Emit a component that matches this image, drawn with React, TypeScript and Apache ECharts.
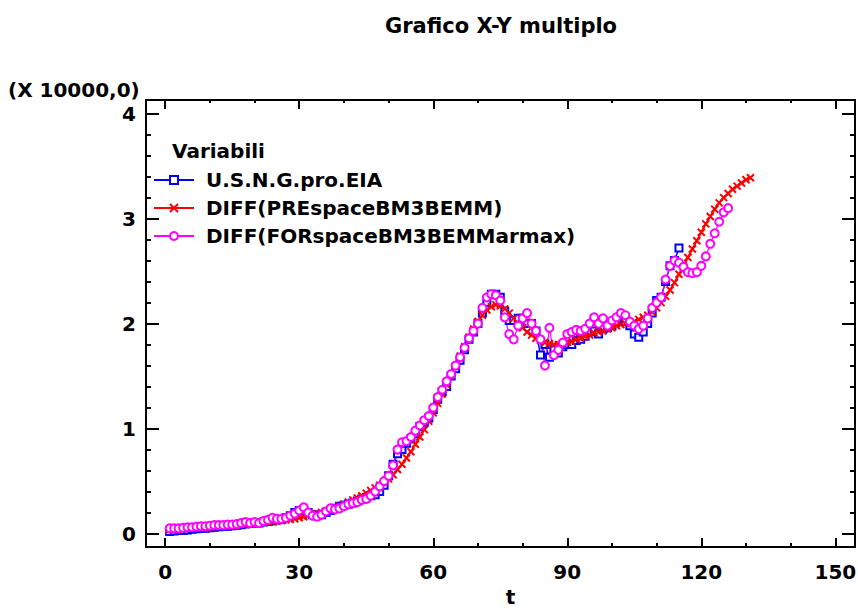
import React, { useEffect, useRef } from "react";
import * as echarts from "echarts";

// Series values (units of 10000), one value per t = 1, 2, 3, ...
const blueVals = [
  0.02, 0.025, 0.03, 0.03, 0.035, 0.04, 0.045, 0.05, 0.05, 0.055,
  0.06, 0.065, 0.07, 0.07, 0.075, 0.08, 0.085, 0.09, 0.095, 0.1,
  0.1, 0.11, 0.115, 0.12, 0.13, 0.135, 0.15, 0.17, 0.2, 0.22,
  0.22, 0.2, 0.18, 0.17, 0.18, 0.2, 0.22, 0.24, 0.26, 0.27,
  0.28, 0.29, 0.31, 0.33, 0.34, 0.36, 0.37, 0.4, 0.46, 0.55,
  0.66, 0.76, 0.8, 0.86, 0.9, 0.95, 1.02, 1.06, 1.1, 1.18,
  1.28, 1.35, 1.4, 1.5, 1.57, 1.65, 1.75, 1.85, 1.92, 2.0,
  2.1, 2.2, 2.28, 2.28, 2.25, 2.12, 2.03, 2.03, 2.05, 2.05,
  2.0, 2.0, 1.93, 1.7, 1.8, 1.68, 1.75, 1.72, 1.78, 1.8,
  1.8, 1.84, 1.85, 1.88, 1.92, 1.93, 1.9, 1.95, 1.96, 1.98,
  2.02, 2.06, 2.02, 1.98, 1.9, 1.87, 1.92, 2.0, 2.1, 2.22,
  2.25, 2.4, 2.55, 2.6, 2.72,
];

const redVals = [
  0.04, 0.042, 0.045, 0.048, 0.05, 0.053, 0.056, 0.059, 0.062, 0.065,
  0.068, 0.071, 0.074, 0.077, 0.08, 0.084, 0.088, 0.092, 0.096, 0.1,
  0.104, 0.108, 0.112, 0.116, 0.12, 0.125, 0.13, 0.135, 0.14, 0.15,
  0.16, 0.17, 0.18, 0.19, 0.2, 0.215, 0.23, 0.245, 0.26, 0.28,
  0.3, 0.32, 0.34, 0.36, 0.385, 0.41, 0.435, 0.46, 0.49, 0.52,
  0.56, 0.61, 0.66, 0.72, 0.78, 0.85, 0.92, 0.99, 1.07, 1.15,
  1.24, 1.33, 1.42, 1.51, 1.6, 1.69, 1.78, 1.87, 1.95, 2.02,
  2.08, 2.13, 2.16, 2.18, 2.17, 2.14, 2.1, 2.05, 2.0, 1.96,
  1.92, 1.89, 1.86, 1.84, 1.82, 1.81, 1.8, 1.8, 1.81, 1.82,
  1.83, 1.85, 1.86, 1.88, 1.89, 1.91, 1.92, 1.93, 1.95, 1.96,
  1.98, 1.99, 2.0, 2.01, 2.02, 2.04, 2.06, 2.08, 2.11, 2.15,
  2.2, 2.26, 2.32, 2.39, 2.47, 2.55, 2.63, 2.71, 2.79, 2.87,
  2.95, 3.02, 3.09, 3.15, 3.2, 3.24, 3.28, 3.31, 3.34, 3.37, 3.39,
];

const magentaVals = [
  0.05, 0.05, 0.05, 0.055, 0.06, 0.06, 0.065, 0.07, 0.07, 0.075,
  0.08, 0.08, 0.08, 0.085, 0.085, 0.09, 0.1, 0.11, 0.1, 0.11,
  0.1, 0.12, 0.13, 0.15, 0.14, 0.14, 0.15, 0.17, 0.19, 0.22,
  0.25, 0.2, 0.17, 0.16, 0.18, 0.21, 0.24, 0.23, 0.24, 0.26,
  0.28, 0.29, 0.3, 0.32, 0.33, 0.36, 0.4, 0.45, 0.5, 0.55,
  0.65, 0.8, 0.87, 0.88, 0.92, 0.98, 1.03, 1.08, 1.12, 1.2,
  1.3, 1.37, 1.45, 1.52, 1.6, 1.68, 1.77, 1.86, 1.93, 2.0,
  2.15, 2.25, 2.28, 2.27, 2.22, 2.06, 1.9, 1.85, 1.98, 2.05,
  2.1, 2.0, 1.93, 1.85, 1.6, 1.96, 1.7, 1.75, 1.82, 1.9,
  1.92, 1.94, 1.93, 1.95, 2.0, 2.06, 2.0, 2.05, 1.98, 2.03,
  2.06, 2.1, 2.08, 2.02, 1.98, 1.95, 1.98, 2.05, 2.15, 2.2,
  2.25, 2.42, 2.55, 2.6, 2.58, 2.54, 2.49, 2.48, 2.49, 2.55,
  2.64, 2.76, 2.86, 2.97, 3.06, 3.1,
];

const seriesNames = [
  "U.S.N.G.pro.EIA",
  "DIFF(PREspaceBM3BEMM)",
  "DIFF(FORspaceBM3BEMMarmax)",
];

const xMajorTicks = [0, 30, 60, 90, 120, 150];
const xMinorTicks = [10, 20, 40, 50, 70, 80, 100, 110, 130, 140];
const yMajorTicks = [0, 1, 2, 3, 4];
const yMinorTicks = [
  0.2, 0.4, 0.6, 0.8, 1.2, 1.4, 1.6, 1.8, 2.2, 2.4, 2.6, 2.8, 3.2, 3.4, 3.6, 3.8,
];

const FONT = "DejaVu Sans";
const X_MIN = -4.3;
const X_MAX = 154.4;
const Y_MIN = -0.128;
const Y_MAX = 4.13;

const toPoints = (vals: number[]) => vals.map((v, i) => [i + 1, v]);

function makeXAxis(position: string, ticks: number[], len: number, showLine: boolean, labels: boolean) {
  return {
    type: "value",
    position,
    min: X_MIN,
    max: X_MAX,
    axisLine: { show: showLine, onZero: false, lineStyle: { color: "#000", width: 2 } },
    axisTick: { show: true, inside: true, length: len, customValues: ticks, lineStyle: { color: "#000", width: 2 } },
    axisLabel: labels
      ? { show: true, customValues: ticks, margin: 15, color: "#000", fontFamily: FONT, fontWeight: "bold", fontSize: 20 }
      : { show: false },
    splitLine: { show: false },
  };
}

function makeYAxis(position: string, ticks: number[], len: number, showLine: boolean, labels: boolean) {
  return {
    type: "value",
    position,
    min: Y_MIN,
    max: Y_MAX,
    axisLine: { show: showLine, onZero: false, lineStyle: { color: "#000", width: 2 } },
    axisTick: { show: true, inside: true, length: len, customValues: ticks, lineStyle: { color: "#000", width: 2 } },
    axisLabel: labels
      ? { show: true, customValues: ticks, margin: 10, color: "#000", fontFamily: FONT, fontWeight: "bold", fontSize: 20 }
      : { show: false },
    splitLine: { show: false },
  };
}

export default function App() {
  const ref = useRef<HTMLDivElement>(null);

  useEffect(() => {
    if (!ref.current) return;
    const chart = echarts.init(ref.current, undefined, { renderer: "svg" });

    const xMain: any = makeXAxis("bottom", xMajorTicks, 9, true, true);
    xMain.name = "t";
    xMain.nameLocation = "middle";
    xMain.nameGap = 37;
    xMain.nameTextStyle = { fontFamily: FONT, fontWeight: "bold", fontSize: 20, color: "#000", padding: [0, 0, 0, 20] };

    const option: any = {
      animation: false,
      backgroundColor: "#fff",
      title: {
        text: "Grafico X-Y multiplo",
        left: 501,
        top: 15,
        padding: 0,
        textAlign: "center",
        textStyle: { fontFamily: FONT, fontWeight: "bold", fontSize: 21, color: "#000" },
      },
      grid: { left: 146, top: 100, right: 3, bottom: 62, containLabel: false, outerBoundsMode: "none" },
      xAxis: [
        xMain,
        makeXAxis("bottom", xMinorTicks, 4, false, false),
        makeXAxis("top", xMajorTicks, 9, true, false),
        makeXAxis("top", xMinorTicks, 3, false, false),
      ],
      yAxis: [
        makeYAxis("left", yMajorTicks, 13, true, true),
        makeYAxis("left", yMinorTicks, 5, false, false),
        makeYAxis("right", yMajorTicks, 13, true, false),
        makeYAxis("right", yMinorTicks, 5, false, false),
      ],
      legend: {
        orient: "vertical",
        left: 153,
        top: 170,
        padding: 0,
        itemWidth: 40,
        itemHeight: 10,
        itemGap: 8,
        data: seriesNames,
        textStyle: { fontFamily: FONT, fontWeight: "bold", fontSize: 20, color: "#000", lineHeight: 20, padding: [0, 0, 0, 7] },
      },
      graphic: [
        {
          type: "text",
          left: 172,
          top: 141,
          style: { text: "Variabili", font: `bold 20px "${FONT}"`, fill: "#000" },
        },
        {
          type: "text",
          left: 8,
          top: 80,
          style: { text: "(X 10000,0)", font: `bold 20px "${FONT}"`, fill: "#000" },
        },
      ],
      series: [
        {
          name: seriesNames[0],
          type: "line",
          data: toPoints(blueVals),
          symbol: "emptyRect",
          symbolSize: 7,
          showAllSymbol: true,
          lineStyle: { color: "#0000ff", width: 1.5 },
          itemStyle: { color: "#0000ff", borderColor: "#0000ff", borderWidth: 1.5 },
        },
        {
          name: seriesNames[1],
          type: "line",
          data: toPoints(redVals),
          symbol: "path://M0,0L10,10M0,10L10,0",
          symbolSize: 7,
          showAllSymbol: true,
          lineStyle: { color: "#ff0000", width: 2 },
          itemStyle: { color: "#ff0000", borderColor: "#ff0000", borderWidth: 2 },
        },
        {
          name: seriesNames[2],
          type: "line",
          data: toPoints(magentaVals),
          symbol: "emptyCircle",
          symbolSize: 8,
          showAllSymbol: true,
          lineStyle: { color: "#ff00ff", width: 1.2 },
          itemStyle: { color: "#ff00ff", borderColor: "#ff00ff", borderWidth: 1.3 },
        },
      ],
    };

    chart.setOption(option);
    return () => chart.dispose();
  }, []);

  return (
    <div
      ref={ref}
      style={{ position: "fixed", left: 0, top: 0, width: 858, height: 609, background: "#fff" }}
    />
  );
}
